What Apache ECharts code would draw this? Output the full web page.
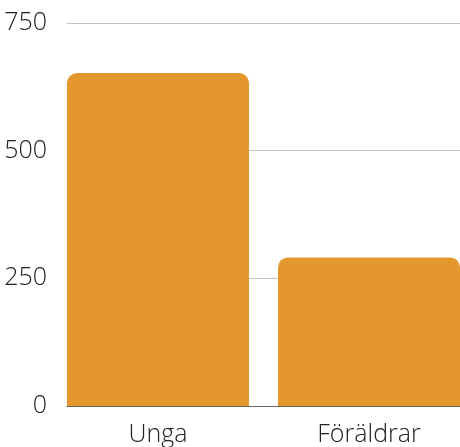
<!DOCTYPE html>
<html><head><meta charset="utf-8">
<script src="https://cdn.jsdelivr.net/npm/echarts@6/dist/echarts.min.js"></script>
<style>html,body{margin:0;padding:0;background:#fff}#c{width:460px;height:447px}</style>
</head><body><div id="c"></div>
<script>
var categories = ["Unga", "Föräldrar"];
var values = [652, 291];
var yTicks = [0, 250, 500, 750];

var chart = echarts.init(document.getElementById('c'), null, {renderer: 'canvas'});
var font = {fontFamily: '"Open Sans"', fontWeight: 300, fontSize: 25, color: '#222'};
chart.setOption({
  animation: false,
  grid: [
    {left: 67, right: 0, top: 23, bottom: 41, outerBoundsMode: 'none', containLabel: false},
    {left: 52.5, width: 422, top: 23, bottom: 41, outerBoundsMode: 'none', containLabel: false}
  ],
  xAxis: [
    {gridIndex: 0, type: 'category', data: categories, axisLine: {show: true, lineStyle: {color: '#666', width: 1}},
     axisTick: {show: false}, axisLabel: {show: false}},
    {gridIndex: 1, type: 'category', data: categories, axisLine: {show: false}, axisTick: {show: false},
     axisLabel: Object.assign({margin: 16}, font)}
  ],
  yAxis: [
    {gridIndex: 0, type: 'value', min: yTicks[0], max: yTicks[yTicks.length - 1], interval: 250,
     axisLine: {show: false}, axisTick: {show: false},
     axisLabel: Object.assign({margin: 20}, font),
     splitLine: {lineStyle: {color: '#c4c4c4', width: 1}}},
    {gridIndex: 1, type: 'value', min: yTicks[0], max: yTicks[yTicks.length - 1], interval: 250, show: false}
  ],
  series: [{
    type: 'bar', xAxisIndex: 1, yAxisIndex: 1, data: values,
    barCategoryGap: '13.74%',
    itemStyle: {color: '#E3972D', borderRadius: [10, 10, 0, 0]}
  }]
});
</script></body></html>
